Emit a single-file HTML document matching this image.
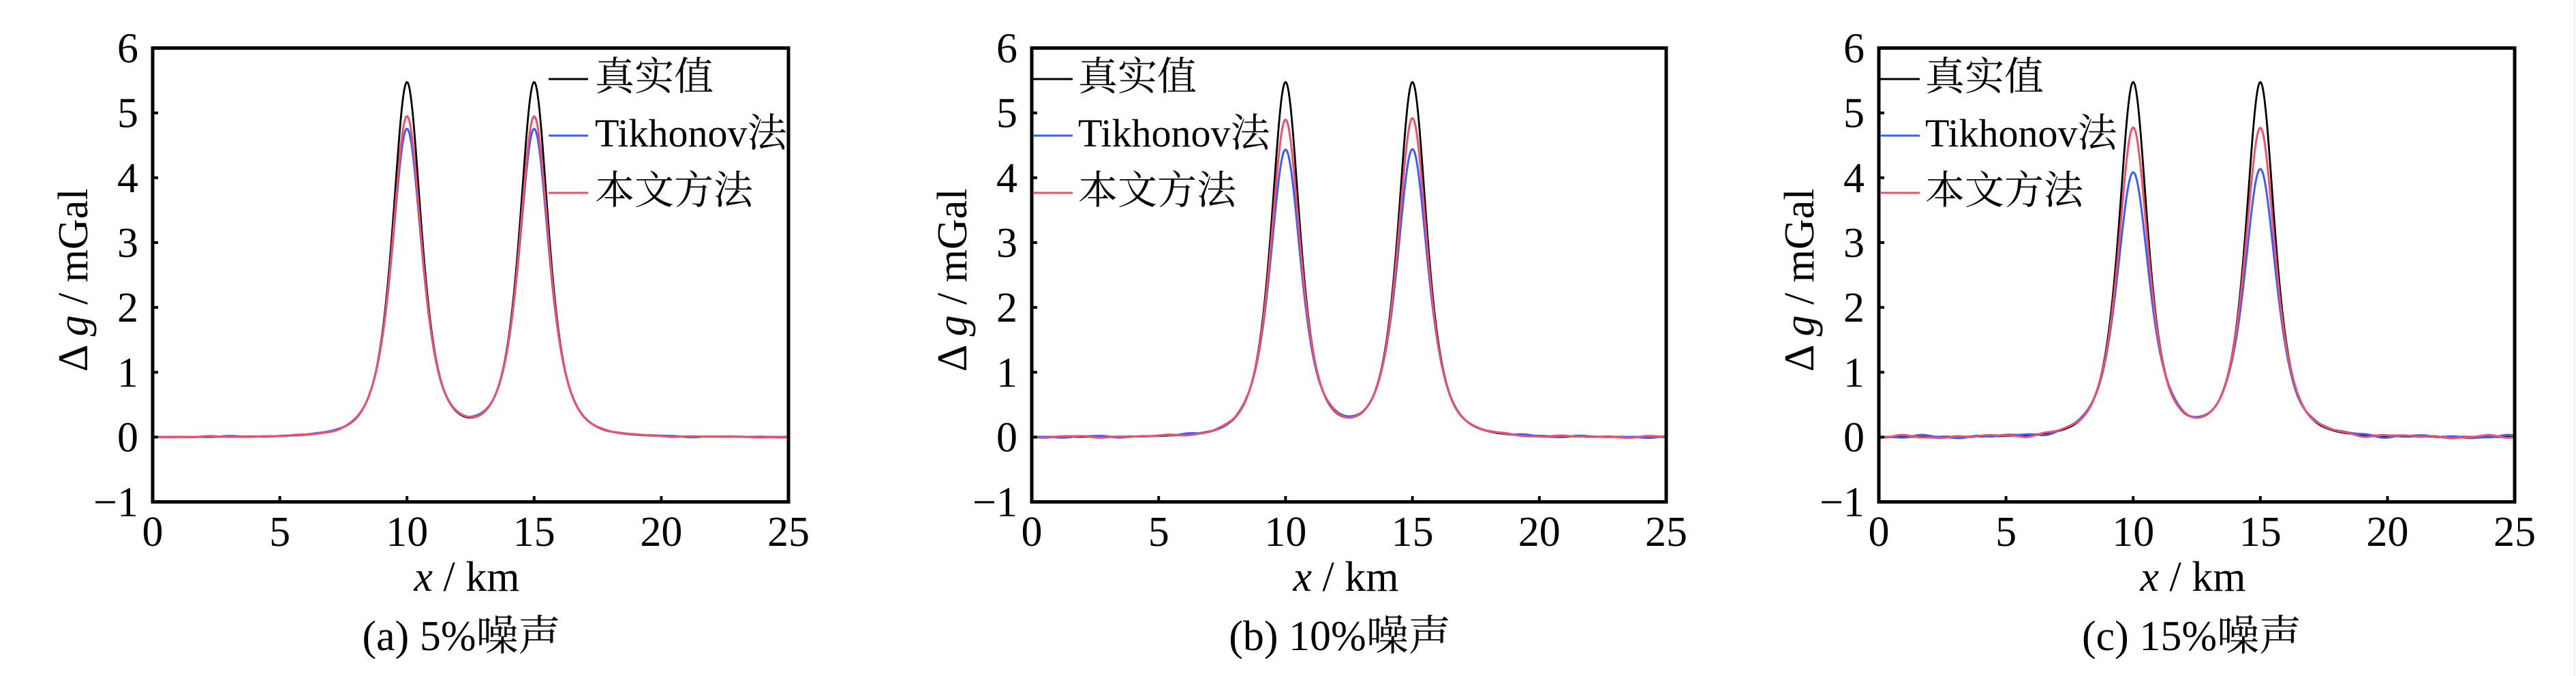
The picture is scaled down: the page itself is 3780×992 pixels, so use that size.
<!DOCTYPE html>
<html>
<head>
<meta charset="utf-8">
<style>
  html,body{margin:0;padding:0;background:#fff;}
  body{width:3780px;height:992px;overflow:hidden;}
  svg{display:block;}
  text{font-family:"Liberation Serif","Noto Serif CJK SC","Noto Sans CJK SC",serif;fill:#000;}
</style>
</head>
<body>
<svg id="chart" xmlns="http://www.w3.org/2000/svg" width="3780" height="992" viewBox="0 0 3780 992">
  <rect x="0" y="0" width="3780" height="992" fill="#fff"/>
  <defs>
    <clipPath id="ca"><rect x="224" y="70.5" width="933" height="666"/></clipPath>
    <clipPath id="cb"><rect x="1514" y="70.5" width="931" height="666"/></clipPath>
    <clipPath id="cc"><rect x="2757" y="70.5" width="933" height="666"/></clipPath>
  </defs>
  <g id="curves-a" clip-path="url(#ca)"></g>
  <g id="curves-b" clip-path="url(#cb)"></g>
  <g id="curves-c" clip-path="url(#cc)"></g>

  <!-- ============ Panel A ============ -->
  <g>
    <rect x="224" y="70.5" width="933" height="666" fill="none" stroke="#000" stroke-width="5"/>
    <g stroke="#000" stroke-width="4">
      <line x1="224" y1="165.7" x2="232" y2="165.7"/>
      <line x1="224" y1="260.8" x2="232" y2="260.8"/>
      <line x1="224" y1="356" x2="232" y2="356"/>
      <line x1="224" y1="451.1" x2="232" y2="451.1"/>
      <line x1="224" y1="546.3" x2="232" y2="546.3"/>
      <line x1="224" y1="641.4" x2="232" y2="641.4"/>
      <line x1="410.6" y1="736.5" x2="410.6" y2="728"/>
      <line x1="597.2" y1="736.5" x2="597.2" y2="728"/>
      <line x1="783.8" y1="736.5" x2="783.8" y2="728"/>
      <line x1="970.4" y1="736.5" x2="970.4" y2="728"/>
    </g>
    <g font-size="62" text-anchor="end">
      <text x="203" y="91.6">6</text>
      <text x="203" y="186.7">5</text>
      <text x="203" y="281.8">4</text>
      <text x="203" y="377">3</text>
      <text x="203" y="472.1">2</text>
      <text x="203" y="567.3">1</text>
      <text x="203" y="662.4">0</text>
      <text x="203" y="757.5">−1</text>
    </g>
    <g font-size="62" text-anchor="middle">
      <text x="224" y="801">0</text>
      <text x="410.6" y="801">5</text>
      <text x="597.2" y="801">10</text>
      <text x="783.8" y="801">15</text>
      <text x="970.4" y="801">20</text>
      <text x="1157" y="801">25</text>
      <text x="685" y="867"><tspan font-style="italic">x</tspan> / km</text>
      <text x="677" y="954">(a) 5%噪声</text>
    </g>
    <text font-size="62" text-anchor="middle" transform="translate(128,411) rotate(-90)">Δ <tspan font-style="italic">g</tspan> / mGal</text>
    <g stroke-width="3">
      <line x1="805" y1="116" x2="863" y2="116" stroke="#000"/>
      <line x1="805" y1="199" x2="863" y2="199" stroke="#3b5cff"/>
      <line x1="805" y1="283" x2="863" y2="283" stroke="#f0506a"/>
    </g>
    <g font-size="58">
      <text x="873" y="132">真实值</text>
      <text x="873" y="215">Tikhonov法</text>
      <text x="873" y="299">本文方法</text>
    </g>
  </g>

  <!-- ============ Panel B ============ -->
  <g>
    <rect x="1514" y="70.5" width="931" height="666" fill="none" stroke="#000" stroke-width="5"/>
    <g stroke="#000" stroke-width="4">
      <line x1="1514" y1="165.7" x2="1522" y2="165.7"/>
      <line x1="1514" y1="260.8" x2="1522" y2="260.8"/>
      <line x1="1514" y1="356" x2="1522" y2="356"/>
      <line x1="1514" y1="451.1" x2="1522" y2="451.1"/>
      <line x1="1514" y1="546.3" x2="1522" y2="546.3"/>
      <line x1="1514" y1="641.4" x2="1522" y2="641.4"/>
      <line x1="1700.2" y1="736.5" x2="1700.2" y2="728"/>
      <line x1="1886.4" y1="736.5" x2="1886.4" y2="728"/>
      <line x1="2072.6" y1="736.5" x2="2072.6" y2="728"/>
      <line x1="2258.8" y1="736.5" x2="2258.8" y2="728"/>
    </g>
    <g font-size="62" text-anchor="end">
      <text x="1493" y="91.6">6</text>
      <text x="1493" y="186.7">5</text>
      <text x="1493" y="281.8">4</text>
      <text x="1493" y="377">3</text>
      <text x="1493" y="472.1">2</text>
      <text x="1493" y="567.3">1</text>
      <text x="1493" y="662.4">0</text>
      <text x="1493" y="757.5">−1</text>
    </g>
    <g font-size="62" text-anchor="middle">
      <text x="1514" y="801">0</text>
      <text x="1700.2" y="801">5</text>
      <text x="1886.4" y="801">10</text>
      <text x="2072.6" y="801">15</text>
      <text x="2258.8" y="801">20</text>
      <text x="2445" y="801">25</text>
      <text x="1975" y="867"><tspan font-style="italic">x</tspan> / km</text>
      <text x="1966" y="954">(b) 10%噪声</text>
    </g>
    <text font-size="62" text-anchor="middle" transform="translate(1418,411) rotate(-90)">Δ <tspan font-style="italic">g</tspan> / mGal</text>
    <g stroke-width="3">
      <line x1="1516" y1="116" x2="1574" y2="116" stroke="#000"/>
      <line x1="1516" y1="199" x2="1574" y2="199" stroke="#3b5cff"/>
      <line x1="1516" y1="283" x2="1574" y2="283" stroke="#f0506a"/>
    </g>
    <g font-size="58">
      <text x="1582" y="132">真实值</text>
      <text x="1582" y="215">Tikhonov法</text>
      <text x="1582" y="299">本文方法</text>
    </g>
  </g>

  <!-- ============ Panel C ============ -->
  <g>
    <rect x="2757" y="70.5" width="933" height="666" fill="none" stroke="#000" stroke-width="5"/>
    <g stroke="#000" stroke-width="4">
      <line x1="2757" y1="165.7" x2="2765" y2="165.7"/>
      <line x1="2757" y1="260.8" x2="2765" y2="260.8"/>
      <line x1="2757" y1="356" x2="2765" y2="356"/>
      <line x1="2757" y1="451.1" x2="2765" y2="451.1"/>
      <line x1="2757" y1="546.3" x2="2765" y2="546.3"/>
      <line x1="2757" y1="641.4" x2="2765" y2="641.4"/>
      <line x1="2943.6" y1="736.5" x2="2943.6" y2="728"/>
      <line x1="3130.2" y1="736.5" x2="3130.2" y2="728"/>
      <line x1="3316.8" y1="736.5" x2="3316.8" y2="728"/>
      <line x1="3503.4" y1="736.5" x2="3503.4" y2="728"/>
    </g>
    <g font-size="62" text-anchor="end">
      <text x="2736" y="91.6">6</text>
      <text x="2736" y="186.7">5</text>
      <text x="2736" y="281.8">4</text>
      <text x="2736" y="377">3</text>
      <text x="2736" y="472.1">2</text>
      <text x="2736" y="567.3">1</text>
      <text x="2736" y="662.4">0</text>
      <text x="2736" y="757.5">−1</text>
    </g>
    <g font-size="62" text-anchor="middle">
      <text x="2757" y="801">0</text>
      <text x="2943.6" y="801">5</text>
      <text x="3130.2" y="801">10</text>
      <text x="3316.8" y="801">15</text>
      <text x="3503.4" y="801">20</text>
      <text x="3690" y="801">25</text>
      <text x="3218" y="867"><tspan font-style="italic">x</tspan> / km</text>
      <text x="3216" y="954">(c) 15%噪声</text>
    </g>
    <text font-size="62" text-anchor="middle" transform="translate(2661,411) rotate(-90)">Δ <tspan font-style="italic">g</tspan> / mGal</text>
    <g stroke-width="3">
      <line x1="2759" y1="116" x2="2817" y2="116" stroke="#000"/>
      <line x1="2759" y1="199" x2="2817" y2="199" stroke="#3b5cff"/>
      <line x1="2759" y1="283" x2="2817" y2="283" stroke="#f0506a"/>
    </g>
    <g font-size="58">
      <text x="2825" y="132">真实值</text>
      <text x="2825" y="215">Tikhonov法</text>
      <text x="2825" y="299">本文方法</text>
    </g>
  </g>

  <line x1="3777.5" y1="0" x2="3777.5" y2="992" stroke="#e4e4e4" stroke-width="1"/>
</svg>
<script>
(function(){
  var NS="http://www.w3.org/2000/svg";
  var PW=1.75;
  function s(d,h){var r=d/h;return Math.pow(1+r*r,-PW);}
  function f(x,A,h){return A*(s(x-10,h)+s(x-15,h));}
  var A0=5.46,h0=0.959;
  var panels=[
    {id:"curves-a",L:224,R:1157,blue:4.74,red:4.93,amp:0.012,seed:1},
    {id:"curves-b",L:1514,R:2445,blue:4.42,red:4.89,amp:0.02,seed:2},
    {id:"curves-c",L:2757,R:3690,blue:4.09,red:4.76,amp:0.032,seed:3}
  ];
  function noise(x,amp,seed,k){
    return amp*(Math.sin(1.9*x+seed*1.3+k)+0.7*Math.sin(3.3*x+seed*2.1+2*k)+0.5*Math.sin(5.7*x+seed*0.7+3*k))/2.2;
  }
  function path(p,fn){
    var d="",W=p.R-p.L;
    for(var i=0;i<=1000;i++){
      var x=i*0.025;
      var v=fn(x);
      var X=p.L+x*W/25, Y=641.4-95.14*v;
      d+=(i?"L":"M")+X.toFixed(2)+" "+Y.toFixed(2);
    }
    return d;
  }
  panels.forEach(function(p){
    var g=document.getElementById(p.id);
    function add(d,col,w){
      var e=document.createElementNS(NS,"path");
      e.setAttribute("d",d);e.setAttribute("fill","none");
      e.setAttribute("stroke",col);e.setAttribute("stroke-width",w);
      e.setAttribute("stroke-linejoin","round");
      g.appendChild(e);
    }
    function mk(P,k){
      var h=h0*Math.pow(A0/P,0.4);
      return function(x){return f(x,P,h)+noise(x,p.amp,p.seed,k);};
    }
    add(path(p,function(x){return f(x,A0,h0);}),"#000",2.8);
    add(path(p,mk(p.blue,0.9)),"#3b5cff",3);
    add(path(p,mk(p.red,2.3)),"#f0506a",3);
  });
})();
</script>
</body>
</html>
